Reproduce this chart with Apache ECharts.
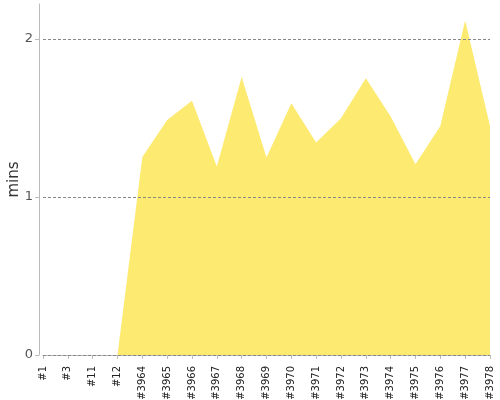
<!DOCTYPE html>
<html>
<head>
<meta charset="utf-8">
<script src="https://cdn.jsdelivr.net/npm/echarts@6/dist/echarts.min.js"></script>
<style>html,body{margin:0;padding:0;background:#fff}#c{width:500px;height:400px}</style>
</head>
<body>
<div id="c"></div>
<script>
var categories = ['#1','#3','#11','#12','#3964','#3965','#3966','#3967','#3968','#3969','#3970','#3971','#3972','#3973','#3974','#3975','#3976','#3977','#3978'];
var durations = [0,0,0,0,1.253,1.487,1.608,1.192,1.758,1.249,1.593,1.344,1.498,1.751,1.508,1.207,1.449,2.116,1.449];
var yTicks = [0,1,2];

var chart = echarts.init(document.getElementById('c'), null, {renderer:'canvas'});
chart.setOption({
  animation: false,
  grid: {left: 43, right: 10, top: 4, bottom: 45, containLabel: false, outerBoundsMode: 'none'},
  xAxis: {
    type: 'category',
    data: categories,
    boundaryGap: false,
    offset: 5,
    axisLine: {lineStyle: {color: '#bbb', width: 1}},
    axisTick: {show: true, alignWithLabel: true, length: 4, lineStyle: {color: '#bbb'}},
    axisLabel: {rotate: 90, interval: 0, fontSize: 10, color: '#222', fontFamily: 'DejaVu Sans', margin: 6},
    splitLine: {show: false}
  },
  yAxis: {
    type: 'value',
    min: 0, max: 2.22, interval: 1,
    offset: 4,
    z: 10,
    name: 'mins',
    nameLocation: 'middle',
    nameGap: 17,
    nameMoveOverlap: false,
    nameTextStyle: {fontSize: 15, color: '#333', fontFamily: 'DejaVu Sans'},
    axisLine: {show: true, lineStyle: {color: '#bbb'}},
    axisTick: {show: true, length: 4, lineStyle: {color: '#bbb'}, customValues: yTicks},
    axisLabel: {fontSize: 13, color: '#555', fontFamily: 'DejaVu Sans', margin: 6, customValues: yTicks},
    splitLine: {show: true, lineStyle: {type: [3, 2], color: '#888', width: 1}}
  },
  series: [{
    type: 'line',
    data: durations,
    symbol: 'none',
    lineStyle: {width: 0},
    areaStyle: {color: '#fdea71', opacity: 1}
  }]
});
</script>
</body>
</html>
